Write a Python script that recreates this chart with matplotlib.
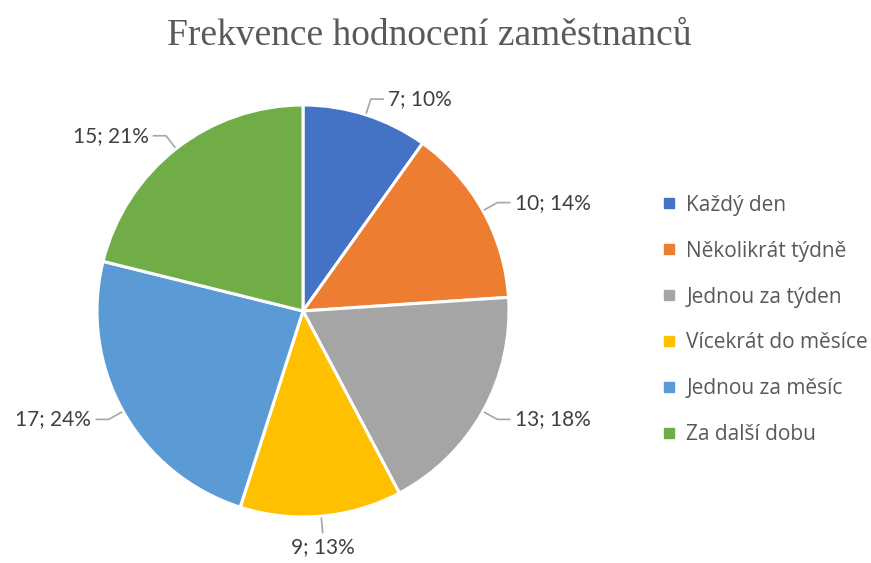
import numpy as np
from matplotlib import pyplot as plt
from matplotlib.lines import Line2D

# Chart data.
categories = ['Každý den', 'Několikrát týdně', 'Jednou za týden',
              'Vícekrát do měsíce', 'Jednou za měsíc', 'Za další dobu']
counts = [7, 10, 13, 9, 17, 15]
colors = ['#4472C4', '#ED7D31', '#A5A5A5', '#FFC000', '#5B9BD5', '#70AD47']
title = 'Frekvence hodnocení zaměstnanců'

labelFont = 'Lato'
textColor = '#404040'
lineColor = '#A6A6A6'

def generatePlot():
  fig = plt.figure(figsize=(8.71, 5.63), dpi=100)
  W, H = 871, 563
  cx, cy, r = 303, 311, 206
  ax = fig.add_axes([(cx - r) / W, (H - cy - r) / H, 2 * r / W, 2 * r / H])

  wedges, _ = ax.pie(counts, colors=colors, startangle=90, counterclock=False,
                     radius=1.0,
                     wedgeprops=dict(edgecolor='white', linewidth=2.2))
  ax.set_xlim(-1, 1)
  ax.set_ylim(-1, 1)
  ax.set_aspect('equal')
  ax.axis('off')

  # Data labels with leader lines.
  total = sum(counts)
  for w, n in zip(wedges, counts):
    ang = np.deg2rad((w.theta1 + w.theta2) / 2)
    c, s = np.cos(ang), np.sin(ang)
    pct = round(100 * n / total)
    text = f'{n}; {pct}%'
    x0, y0 = 1.01 * c, 1.01 * s
    x1, y1 = 1.08 * c, 1.08 * s
    if abs(c) > 0.3:
      side = np.sign(c)
      x2 = x1 + 0.06 * side
      ax.plot([x0, x1, x2], [y0, y1, y1], color=lineColor, lw=1.2,
              clip_on=False)
      ax.text(x2 + 0.025 * side, y1, text, fontsize=15, family=labelFont,
              color=textColor, ha='left' if side > 0 else 'right',
              va='center')
    else:
      ax.plot([x0, x1], [y0, y1], color=lineColor, lw=1.2, clip_on=False)
      ty = y1 + 0.02 * np.sign(s)
      ax.text(x1, ty, text, fontsize=15, family=labelFont, color=textColor,
              ha='center', va='top' if s < 0 else 'bottom')

  fig.suptitle(title, x=0.493, y=1 - 36 / H, va='center', fontsize=27,
               family='Liberation Serif', color='#595959')

  handles = [Line2D([], [], marker='s', linestyle='none', markersize=7,
                    markerfacecolor=col, markeredgecolor=col)
             for col in colors]
  fig.legend(handles, categories, loc='center left',
             bbox_to_anchor=(655 / W, 1 - 320 / H), frameon=False,
             borderaxespad=0, handlelength=0.5, handletextpad=0.6,
             labelspacing=1.2,
             prop=dict(family='Open Sans', size=15), labelcolor='#595959')

  fig.savefig('out.png', dpi=100)

if __name__ == '__main__':
  generatePlot()
